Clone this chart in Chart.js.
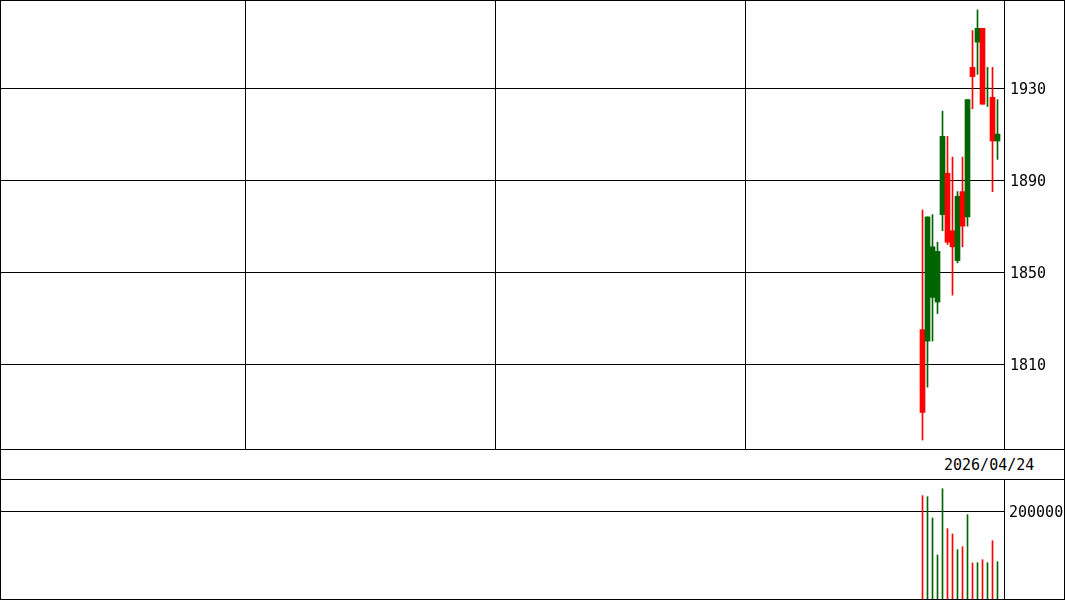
<!DOCTYPE html>
<html>
<head>
<meta charset="utf-8">
<script src="https://cdn.jsdelivr.net/npm/chart.js@4.4.1/dist/chart.umd.min.js"></script>
<style>
body { margin: 0; background: #fff; }
#wrap { position: relative; width: 1065px; height: 600px; overflow: hidden; font-family: "DejaVu Sans Mono", monospace; }
canvas { position: absolute; left: 0; }
#price { top: 0; }
#vol { top: 479px; }
.ln { position: absolute; background: #000; }
#frame { position: absolute; left: 0; top: 0; width: 1065px; height: 600px; box-sizing: border-box; border: 1px solid #000; }
#date { position: absolute; left: 944px; top: 456px; font-size: 15px; color: #000; }
</style>
</head>
<body>
<div id="wrap">
    <canvas id="price" width="1065" height="449" style="width:1065px;height:449px"></canvas>
    <canvas id="vol" width="1065" height="121" style="width:1065px;height:121px"></canvas>
    <div class="ln" style="left:1004px;top:0;width:1px;height:449px"></div>
    <div class="ln" style="left:0;top:449px;width:1065px;height:1px"></div>
    <div class="ln" style="left:0;top:479px;width:1065px;height:1px"></div>
    <div class="ln" style="left:1004px;top:479px;width:1px;height:121px"></div>
    <div id="date"></div>
    <div id="frame"></div>
</div>
<script>
// daily candles (oldest first), last one is lastDate
const opens   = [1825, 1820, 1839, 1837, 1875, 1893, 1868, 1855, 1885, 1874, 1939, 1950, 1956, 1930, 1926, 1907];
const highs   = [1877, 1874, 1875, 1863, 1920, 1909, 1900, 1885, 1900, 1925, 1955, 1964, 1956, 1939, 1939, 1925];
const lows    = [1777, 1800, 1820, 1832, 1868, 1862, 1840, 1854, 1861, 1870, 1921, 1936, 1923, 1922, 1885, 1899];
const closes  = [1789, 1874, 1861, 1859, 1909, 1863, 1861, 1883, 1870, 1925, 1935, 1956, 1923, 1930, 1907, 1910];
const volumes = [234500, 232200, 184300, 101200, 250200, 160300, 148400, 113100, 119800, 191800, 83200, 83900, 90600, 83900, 133300, 86100];

const lastDate = "2026/04/24";
const priceTicks = [1810, 1850, 1890, 1930];
const volumeTicks = [200000];

const UP = "#006400";
const DOWN = "#ff0000";

// the window shows ~200 trading days, the listing only has the last 16
const emptyDays = 184.5;
const windowDays = 200.8;
const xMin = -emptyDays;
const xMax = xMin + windowDays;
const gridEvery = 50;
const gridDays = [];
for (let v = xMin + 49.1; v < xMax - 10; v += gridEvery) gridDays.push(v);

document.getElementById("date").textContent = lastDate;

const days = opens.map((o, i) => i);
const colors = days.map(i => closes[i] >= opens[i] ? UP : DOWN);

Chart.defaults.font.family = "'DejaVu Sans Mono', monospace";
Chart.defaults.font.size = 15;
Chart.defaults.color = "#000";

// no label overhang padding, so the plot fills the canvas
const flatX = s => { s.height = 0; s.paddingLeft = 0; s.paddingRight = 0; };
const flatY = s => { s.width = 61; s.paddingTop = 0; s.paddingBottom = 0; };

new Chart(document.getElementById("price"), {
    type: "bar",
    data: {
        datasets: [{
            data: days.map(i => ({ x: i, y: [lows[i], highs[i]] })),
            backgroundColor: colors,
            barThickness: 1,
            grouped: false
        }, {
            data: days.map(i => ({ x: i, y: [opens[i], closes[i]] })),
            backgroundColor: colors,
            barThickness: 5,
            grouped: false
        }]
    },
    options: {
        responsive: false,
        animation: false,
        devicePixelRatio: 1,
        layout: { padding: 0 },
        plugins: { legend: { display: false }, tooltip: { enabled: false } },
        scales: {
            x: {
                type: "linear",
                min: xMin,
                max: xMax,
                offset: false,
                afterBuildTicks: s => { s.ticks = gridDays.map(v => ({ value: v })); },
                afterFit: flatX,
                grid: { color: "#000", drawTicks: false, offset: false },
                border: { display: false },
                ticks: { display: false }
            },
            y: {
                position: "right",
                min: 1773.1,
                max: 1968.3,
                afterBuildTicks: s => { s.ticks = priceTicks.map(v => ({ value: v })); },
                afterFit: flatY,
                grid: { color: "#000", drawTicks: false },
                border: { display: false },
                ticks: { padding: 6, labelOffset: 2, font: { size: 15 }, callback: v => String(v) }
            }
        }
    }
});

new Chart(document.getElementById("vol"), {
    type: "bar",
    data: {
        datasets: [{
            data: days.map(i => ({ x: i, y: volumes[i] })),
            backgroundColor: colors,
            barThickness: 1
        }]
    },
    options: {
        responsive: false,
        animation: false,
        devicePixelRatio: 1,
        layout: { padding: 0 },
        plugins: { legend: { display: false }, tooltip: { enabled: false } },
        scales: {
            x: {
                type: "linear",
                min: xMin,
                max: xMax,
                offset: false,
                afterFit: flatX,
                grid: { display: false },
                border: { display: false },
                ticks: { display: false }
            },
            y: {
                position: "right",
                min: 0,
                max: 272000,
                afterBuildTicks: s => { s.ticks = volumeTicks.map(v => ({ value: v })); },
                afterFit: flatY,
                grid: { color: "#000", drawTicks: false },
                border: { display: false },
                ticks: { padding: 5, labelOffset: 2, font: { size: 15 }, callback: v => String(v) }
            }
        }
    }
});
</script>
</body>
</html>
